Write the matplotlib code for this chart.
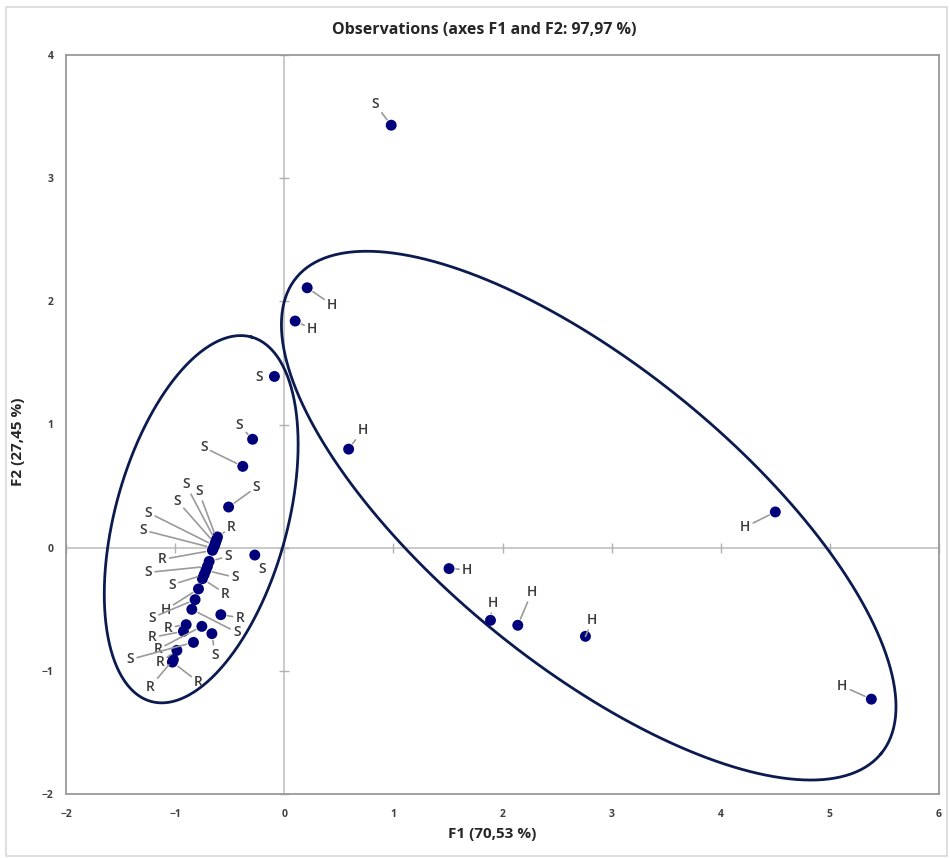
import numpy as np
import matplotlib
matplotlib.use("Agg")
import matplotlib.pyplot as plt
from matplotlib.patches import Rectangle

# ---------------- data ----------------
f1 = [0.98, 0.21, 0.10, -0.09, -0.29, -0.38, -0.51, 0.59, -0.27, 4.50, 5.38,
      1.51, 1.89, 2.14, 2.76,
      -0.612, -0.619, -0.627, -0.633, -0.639, -0.649, -0.658,
      -0.688, -0.704, -0.718, -0.734, -0.750,
      -0.786, -0.817, -0.847, -0.581, -0.899, -0.924, -0.755, -0.663,
      -0.832, -0.984, -1.016, -1.025]
f2 = [3.43, 2.11, 1.84, 1.39, 0.88, 0.66, 0.33, 0.80, -0.06, 0.29, -1.23,
      -0.17, -0.59, -0.63, -0.72,
      0.087, 0.069, 0.051, 0.032, 0.016, -0.004, -0.022,
      -0.111, -0.152, -0.184, -0.219, -0.252,
      -0.335, -0.422, -0.501, -0.544, -0.625, -0.679, -0.639, -0.698,
      -0.769, -0.834, -0.909, -0.929]
labels = ['S', 'H', 'H', 'S', 'S', 'S', 'S', 'H', 'S', 'H', 'H',
          'H', 'H', 'H', 'H',
          'R', 'S', 'S', 'S', 'S', 'S', 'R',
          'S', 'S', 'S', 'S', 'R',
          'H', 'S', 'S', 'R', 'R', 'R', 'R', 'S',
          'S', 'R', 'R', 'R']

# label offsets (pixels, right / up) - layout only
lab_dx = [-16, 25, 17, -15, -13, -39, 28, 14, 7, -30, -29,
          18, 2, 14, 7,
          14, -18, -30, -38, -66, -70, -50,
          19, -59, 29, -32, 23,
          -33, -43, 45, 19, -18, -31, -44, 3,
          -63, -17, -23, 26]
lab_dy = [21, -17, -8, -1, 14, 19, 20, 19, -14, -15, 13,
          -1, 17, 33, 16,
          10, 48, 57, 43, 33, 18, -9,
          5, -6, -7, -10, -15,
          -21, -18, -23, -3, -3, -6, -23, -21,
          -17, -12, -27, -20]

x_ticks = [-2, -1, 0, 1, 2, 3, 4, 5, 6]
y_ticks = [-2, -1, 0, 1, 2, 3, 4]

title = "Observations (axes F1 and F2: 97,97 %)"
xlabel = "F1 (70,53 %)"
ylabel = "F2 (27,45 %)"

# confidence ellipses: centre (data), semi-axes (px), angle (deg)
ell_cx = [-0.761, 2.79]
ell_cy = [0.231, 0.26]
ell_a = [189, 377]
ell_b = [86, 149]
ell_ang = [74.6, -39.1]

# ---------------- figure ----------------
W, H, DPI = 950, 858, 100
fig = plt.figure(figsize=(W / DPI, H / DPI), dpi=DPI)
fig.patch.set_facecolor('white')
fig.patches.append(Rectangle((0.006, 0.002), 0.991, 0.990, transform=fig.transFigure,
                             fill=False, edgecolor='#d9d9d9', lw=1.2))

ax_rect = [66 / W, 1 - 794 / H, (939 - 66) / W, (794 - 55) / H]
ax = fig.add_axes(ax_rect)
ax.set_xlim(-2, 6)
ax.set_ylim(-2, 4)

sx = ax_rect[2] * W / (x_ticks[-1] - x_ticks[0])
sy = ax_rect[3] * H / (y_ticks[-1] - y_ticks[0])

for s in ax.spines.values():
    s.set_color('#9a9a9a')
    s.set_linewidth(1.3)

ax.set_xticks(x_ticks)
ax.set_yticks(y_ticks)
ax.tick_params(length=0, labelsize=7.5, labelcolor='#404040')
ax.tick_params(axis='x', pad=11)
ax.tick_params(axis='y', pad=9)
for t in ax.get_xticklabels() + ax.get_yticklabels():
    t.set_fontweight('bold')
    t.set_family('Open Sans')

# crosshair with small ticks
ax.axhline(0, color='#c0c0c0', lw=1.2, zorder=1)
ax.axvline(0, color='#c0c0c0', lw=1.2, zorder=1)
ax.plot(np.zeros(len(y_ticks)), y_ticks, ls='none', marker='_', ms=7,
        mew=1.0, color='#b0b0b0', zorder=1, clip_on=False)
ax.plot(x_ticks, np.zeros(len(x_ticks)), ls='none', marker='|', ms=7,
        mew=1.0, color='#b0b0b0', zorder=1, clip_on=False)

# ellipses
t = np.linspace(0, 2 * np.pi, 400)
for cx, cy, a, b, ang in zip(ell_cx, ell_cy, ell_a, ell_b, ell_ang):
    th = np.deg2rad(ang)
    u, v = a * np.cos(t), b * np.sin(t)
    dx = u * np.cos(th) - v * np.sin(th)
    dy = u * np.sin(th) + v * np.cos(th)
    ax.plot(cx + dx / sx, cy + dy / sy, color='#0b1a4f', lw=2.0, zorder=2)

# points
ax.scatter(f1, f2, s=62, color='#00007a', zorder=4, edgecolors='none')

# labels with leader lines
for x, y, lab, dx, dy in zip(f1, f2, labels, lab_dx, lab_dy):
    dist = np.hypot(dx, dy)
    arrow = None
    if dist > 17:
        arrow = dict(arrowstyle='-', color='#9a9a9a', lw=1.2,
                     shrinkA=0, shrinkB=5)
    ax.annotate(lab, (x, y), xytext=(dx, dy), textcoords='offset pixels',
                ha='center', va='center', fontsize=10, fontweight='semibold',
                family='Open Sans', color='#3a3a3a', arrowprops=arrow, zorder=5)

fig.text(484 / W, 1 - 30 / H, title, ha='center', va='center', fontsize=11.5,
         fontweight='bold', family='Open Sans', color='#262626')
fig.text(492 / W, 1 - 834 / H, xlabel, ha='center', va='center', fontsize=11,
         fontweight='bold', family='Open Sans', color='#262626')
fig.text(18 / W, 1 - 442 / H, ylabel, ha='center', va='center', fontsize=11,
         fontweight='bold', family='Open Sans', color='#262626', rotation=90)

fig.savefig('out.png', dpi=DPI, facecolor='white')
